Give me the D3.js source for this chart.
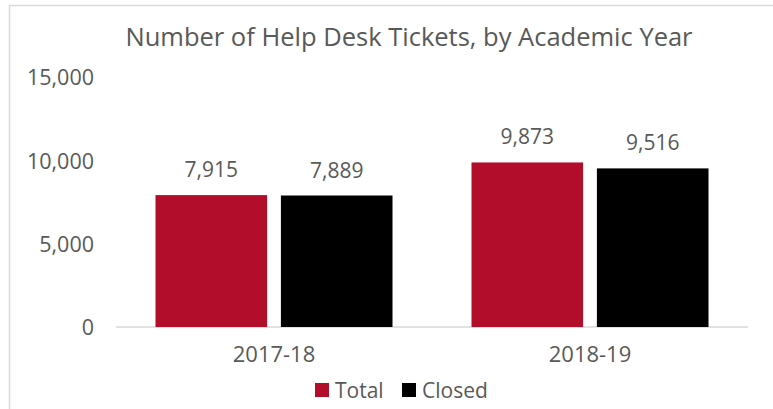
<!DOCTYPE html>
<html><head><meta charset="utf-8">
<script src="https://cdn.jsdelivr.net/npm/d3@7"></script>
<style>body{margin:0;background:#fff}svg{display:block}text{font-family:"Open Sans","Noto Sans",sans-serif;fill:#595959}</style>
</head><body><div id="chart"></div>
<script>
const categories = ["2017-18", "2018-19"];
const seriesNames = ["Total", "Closed"];
const totalValues = [7915, 9873];
const closedValues = [7889, 9516];
const yTicks = [0, 5000, 10000, 15000];
const title = "Number of Help Desk Tickets, by Academic Year";
const colors = {Total: "#B20E2C", Closed: "#000000"};

const W = 773, H = 409;
const svg = d3.select("#chart").append("svg").attr("width", W).attr("height", H);
svg.append("rect").attr("x", 9.5).attr("y", 5.5).attr("width", 900).attr("height", 600)
  .attr("fill", "#fff").attr("stroke", "#d9d9d9").attr("stroke-width", 1.5);

const x0 = d3.scaleBand().domain(categories).range([116, 748]).paddingInner(0.25).paddingOuter(0.125);
const x1 = d3.scaleBand().domain(seriesNames).range([0, x0.bandwidth()]).paddingInner(0.11);
const y = d3.scaleLinear().domain([0, 15000]).range([327, 77]);

svg.append("text").attr("x", 409).attr("y", 46).attr("text-anchor", "middle")
  .style("font-size", "25.5px").text(title);

const yAxis = svg.append("g").attr("transform", "translate(94,0)")
  .call(d3.axisLeft(y).tickValues(yTicks).tickFormat(d3.format(",")).tickSize(0).tickPadding(0));
yAxis.select(".domain").remove();
yAxis.selectAll("text").style("font-size", "21.5px").attr("fill", "#595959").attr("dy", "0.36em");

svg.append("line").attr("x1", 116).attr("x2", 748).attr("y1", y(0)).attr("y2", y(0))
  .attr("stroke", "#d9d9d9").attr("stroke-width", 1.5);

const data = categories.map((c, i) => ({cat: c, vals: [
  {s: "Total", v: totalValues[i]}, {s: "Closed", v: closedValues[i]}]}));

const g = svg.selectAll("g.grp").data(data).join("g").attr("class", "grp")
  .attr("transform", d => `translate(${x0(d.cat)},0)`);
g.selectAll("rect").data(d => d.vals).join("rect")
  .attr("x", d => x1(d.s)).attr("width", x1.bandwidth())
  .attr("y", d => y(d.v)).attr("height", d => y(0) - y(d.v))
  .attr("fill", d => colors[d.s]);
g.selectAll("text.lbl").data(d => d.vals).join("text").attr("class", "lbl")
  .attr("x", d => x1(d.s) + x1.bandwidth() / 2).attr("y", d => y(d.v) - 18)
  .attr("text-anchor", "middle").style("font-size", "21px")
  .text(d => d3.format(",")(d.v));

const xAxis = svg.append("g").attr("transform", `translate(0,${y(0)})`)
  .call(d3.axisBottom(x0).tickSize(0).tickPadding(0));
xAxis.select(".domain").remove();
xAxis.selectAll("text").style("font-size", "22px").attr("fill", "#595959").attr("dy", "1.58em");

const legendX = [315, 402];
const lg = svg.selectAll("g.leg").data(seriesNames).join("g").attr("class", "leg")
  .attr("transform", (d, i) => `translate(${legendX[i]},383)`);
lg.append("rect").attr("width", 14).attr("height", 14).attr("fill", d => colors[d]);
lg.append("text").attr("x", 20).attr("y", 14.5).style("font-size", "21px").text(d => d);
</script></body></html>
